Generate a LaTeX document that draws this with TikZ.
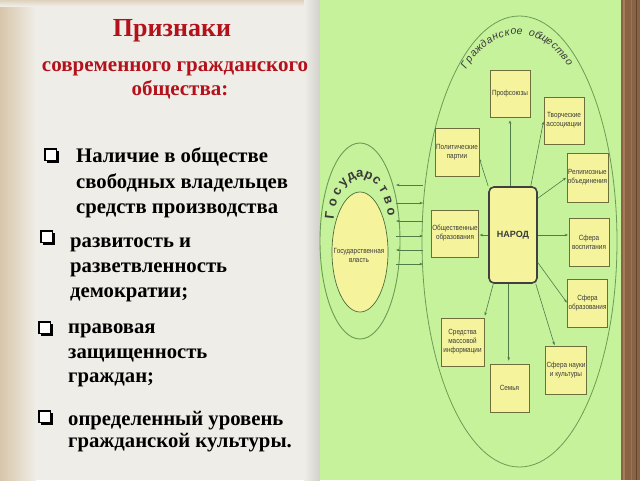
\documentclass[tikz,border=0pt]{standalone}
\usepackage{fontspec}
\setmainfont{Liberation Serif}
\newfontfamily\labfont[FakeStretch=0.85]{Liberation Sans}
\newfontfamily\ringfont{Liberation Sans}
\usetikzlibrary{arrows.meta,shapes.geometric}
\definecolor{paper}{HTML}{EFEDE7}
\definecolor{paperedge}{HTML}{D8C6AA}
\definecolor{greenbg}{HTML}{C6F29C}
\definecolor{wood}{HTML}{8A6244}
\definecolor{woodlight}{HTML}{A67C5B}
\definecolor{titlered}{HTML}{B3121C}
\definecolor{linec}{HTML}{6C9C55}
\definecolor{yel}{HTML}{F5F49C}
\definecolor{boxc}{HTML}{6E6E3C}
\definecolor{arrc}{HTML}{4F7C47}
\definecolor{txt}{HTML}{3A3A3A}
\tikzset{
  sbox/.style={draw=boxc, line width=0.7pt, fill=yel, inner sep=1pt, align=center,
    text=txt, font=\labfont\fontsize{7.5}{9}\selectfont},
  conn/.style={draw=arrc, line width=0.6pt, -{Stealth[length=3.5pt,width=2.6pt]}},
  redtxt/.style={text=titlered, font=\bfseries\fontsize{21}{25}\selectfont},
  blktxt/.style={text=black, font=\bfseries\fontsize{20.7}{24}\selectfont, anchor=base west, inner sep=0},
  stateletter/.style={text=txt, font=\ringfont\bfseries\fontsize{13}{15}\selectfont, anchor=base, inner sep=0},
  civilletter/.style={text=txt, font=\ringfont\itshape\fontsize{10.5}{12}\selectfont, anchor=base, inner sep=0},
  chk/.pic={\fill[black] (1.8,1.8) rectangle (13.5,13.5);
            \draw[black, line width=1.2pt, fill=white] (0,0) rectangle (11.5,11.5);}
}
\begin{document}
\begin{tikzpicture}[x=1pt,y=-1pt]
\useasboundingbox (0,0) rectangle (640,480);
% paper panel
\fill[paper] (0,0) rectangle (320,480);
\shade[left color=paperedge, right color=paper] (0,0) rectangle (36,480);
\shade[top color=paperedge!70!paper, bottom color=paper] (0,0) rectangle (320,6);
\shade[left color=paper, right color=black!12!paper] (304,0) rectangle (320,480);
% green panel
\fill[greenbg] (320,0) rectangle (621,480);
% wood strip
\fill[wood] (621,0) rectangle (640,480);
\draw[woodlight, line width=1.2pt] (624,0) -- (624,480);
\draw[woodlight!70!wood, line width=0.8pt] (631,0) -- (631,480);
\draw[black!30!wood, line width=0.6pt] (636,0) -- (636,480);

% left texts
\node[redtxt, font=\bfseries\fontsize{26}{30}\selectfont, anchor=base] (t1) at (172,36) {Признаки};
\node[redtxt, anchor=base] (t2) at (175,71) {современного гражданского};
\node[redtxt, anchor=base] (t3) at (180,95) {общества:};

\pic at (45,149) {chk};
\node[blktxt] (a1) at (76,162) {Наличие в обществе};
\node[blktxt] (a2) at (76,188) {свободных владельцев};
\node[blktxt] (a3) at (76,213) {средств производства};

\pic at (41,231) {chk};
\node[blktxt] (b1) at (70,247) {развитость и};
\node[blktxt] (b2) at (70,272) {разветвленность};
\node[blktxt] (b3) at (70,297) {демократии;};

\pic at (39,322) {chk};
\node[blktxt] (c1) at (68,333) {правовая};
\node[blktxt] (c2) at (68,358) {защищенность};
\node[blktxt] (c3) at (68,382) {граждан;};

\pic at (39,411) {chk};
\node[blktxt] (d1) at (68,425) {определенный уровень};
\node[blktxt] (d2) at (68,447) {гражданской культуры.};

% civil society ellipse
\node[ellipse, draw=linec, line width=0.8pt, minimum width=195pt, minimum height=451pt, inner sep=0] (civil) at (519.5,241.5) {};
\foreach \ch [count=\i from 0] in {Г,р,а,ж,д,а,н,с,к,о,е,{},о,б,щ,е,с,т,в,о} {
  \pgfmathsetmacro\ang{139.2-\i*5.05}
  \pgfmathsetmacro\rot{atan2(-94.5*cos(\ang), 66.5*sin(\ang))}
  \node[civilletter, rotate=\rot] (cl\i) at ({518+66.5*cos(\ang)}, {129-94.5*sin(\ang)}) {\ch};
}

% state
\node[ellipse, draw=linec, line width=0.9pt, minimum width=80pt, minimum height=196pt, inner sep=0] (state) at (360,241) {};
\node[ellipse, draw=linec!70!black, line width=0.7pt, fill=yel, minimum width=56pt, minimum height=120pt, inner sep=0] (power) at (360,252) {};
\node[text=txt, font=\labfont\fontsize{7.5}{9}\selectfont, align=center] (powertxt) at (359,255) {Государственная\\власть};
\foreach \ch [count=\i from 0] in {Г,о,с,у,д,а,р,с,т,в,о} {
  \pgfmathsetmacro\ang{169-\i*15.4}
  \pgfmathsetmacro\rot{atan2(-47.5*cos(\ang), 27.5*sin(\ang))}
  \node[stateletter, rotate=\rot] (sl\i) at ({361+27.5*cos(\ang)}, {225-47.5*sin(\ang)}) {\ch};
}

% arrows between state and society
\foreach \yy/\nm in {185/s1,203/s2,221/s3,236/s4,250/s5,264/s6}{
  \coordinate (\nm L) at (396,\yy);
  \coordinate (\nm R) at (423,\yy);
}
\draw[conn] (s1R) -- (s1L);
\draw[conn] (s2L) -- (s2R);
\draw[conn] (s3R) -- (s3L);
\draw[conn] (s4L) -- (s4R);
\draw[conn] (s5R) -- (s5L);
\draw[conn] (s6L) -- (s6R);

% boxes
\node[sbox, draw=black!75, line width=1.6pt, rounded corners=5pt, minimum width=48pt, minimum height=96pt,
  font=\ringfont\bfseries\fontsize{9}{11}\selectfont] (narod) at (513,235) {НАРОД};
\node[sbox, minimum width=40pt, minimum height=47pt] (prof) at (510,93.5) {Профсоюзы};
\node[sbox, minimum width=40pt, minimum height=47pt] (tvor) at (564,120.5) {Творческие\\ассоциации};
\node[sbox, minimum width=42pt, minimum height=48pt] (polit) at (457,152) {Политические\\партии};
\node[sbox, minimum width=39pt, minimum height=49pt] (relig) at (587.5,177.5) {Религиозные\\объединения};
\node[sbox, minimum width=44pt, minimum height=47pt] (obsh) at (455,233.5) {Общественные\\образования};
\node[sbox, minimum width=40pt, minimum height=48pt] (vosp) at (589,242) {Сфера\\воспитания};
\node[sbox, minimum width=39pt, minimum height=48pt] (obr) at (587.5,303) {Сфера\\образования};
\node[sbox, minimum width=43pt, minimum height=48pt] (smi) at (462.5,342) {Средства\\массовой\\информации};
\node[sbox, minimum width=39pt, minimum height=48pt] (sem) at (509.5,388) {Семья};
\node[sbox, minimum width=40pt, minimum height=48pt] (nauka) at (566,370) {Сфера науки\\и культуры};

% arrows from NAROD
\draw[conn, shorten >=3pt] (narod.north -| prof.south) -- (prof.south);
\draw[conn, shorten >=1pt] (narod.70) -- (tvor.west);
\draw[conn, shorten >=0.5pt] (narod.north west) -- (polit.-15);
\draw[conn, shorten >=0.5pt] (narod.56) -- (relig.west);
\draw[conn, shorten >=0.5pt] (narod.west) -- (narod.west -| obsh.east);
\draw[conn, shorten >=0.5pt] (narod.east) -- (narod.east -| vosp.west);
\draw[conn, shorten >=0.5pt] (narod.-48) -- (obr.west);
\draw[conn, shorten >=0.5pt] (narod.-65) -- (nauka.115);
\draw[conn, shorten >=3pt] (narod.-95) -- (narod.-95 |- sem.north);
\draw[conn, shorten >=2pt] (narod.-112) -- (smi.north east);
\end{tikzpicture}
\end{document}
